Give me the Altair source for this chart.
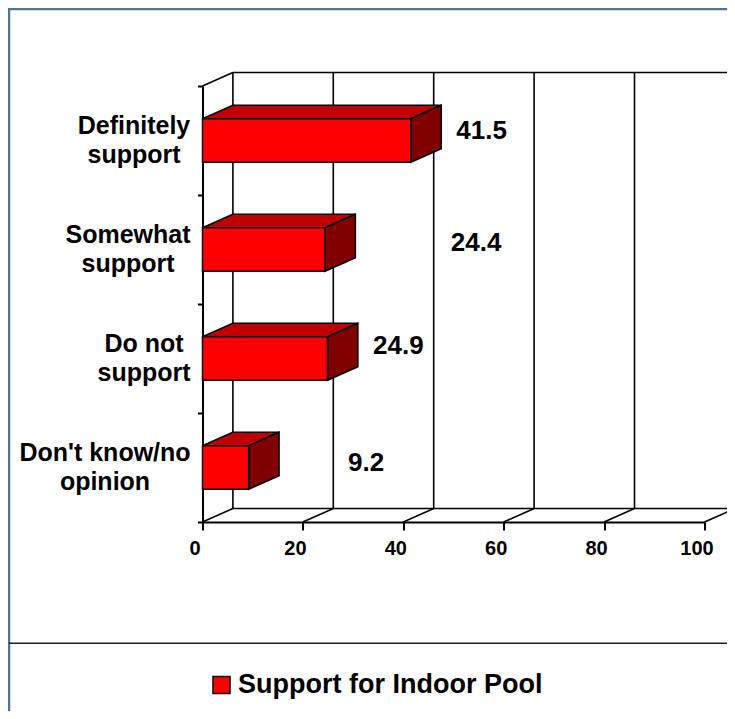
import altair as alt
import pandas as pd

# ---------------- data ----------------
categories = ["Definitely\nsupport", "Somewhat\nsupport", "Do not\nsupport", "Don't know/no\nopinion"]
values = [41.5, 24.4, 24.9, 9.2]
series_name = "Support for Indoor Pool"
x_ticks = [0, 20, 40, 60, 80, 100]

# ---------------- style / layout ----------------
FONT = "Liberation Sans"
W, H = 502, 436          # front plot area (pixels)
XMAX = 100
NCAT = len(categories)
PX_X = W / XMAX
PX_Y = H / NCAT
DX = 30.4 / PX_X         # 3D depth, in data units
DY = 13.5 / PX_Y
HALF = 0.2               # half bar thickness (band units)
FRONT, TOP, SIDE = "#FF0000", "#C00000", "#800000"
CAT_LINE_H = 29.5
# value label placement (x in data units, y shift in band units)
label_pos = [(55.6, 0.087), (54.5, 0.06), (39.0, 0.115), (32.6, 0.041)]
# category label centre, pixels relative to the plot's left edge
cat_cx = [-68.5, -74.5, -58.5, -97.5]

centers = [NCAT - i - 0.5 for i in range(NCAT)]

front = pd.DataFrame({
    "x": [0.0] * NCAT, "x2": values,
    "y": [c - HALF for c in centers], "y2": [c + HALF for c in centers],
    "series": [series_name] * NCAT,
})

top_rows, side_rows = [], []
for i, (v, c) in enumerate(zip(values, centers)):
    top_rows.append({"bar": i, "y": c + HALF, "x": 0.0, "x2": v})
    top_rows.append({"bar": i, "y": c + HALF + DY, "x": DX, "x2": v + DX})
    side_rows.append({"bar": i, "x": v, "y": c - HALF, "y2": c + HALF})
    side_rows.append({"bar": i, "x": v + DX, "y": c - HALF + DY, "y2": c + HALF + DY})
top = pd.DataFrame(top_rows)
side = pd.DataFrame(side_rows)

seg = []
for t in x_ticks:
    seg.append({"x": t + DX, "y": DY, "x2": t + DX, "y2": NCAT + DY})   # back wall grid
    seg.append({"x": t, "y": 0, "x2": t + DX, "y2": DY})                # floor diagonals
seg.append({"x": DX, "y": NCAT + DY, "x2": XMAX + DX, "y2": NCAT + DY})  # back top
seg.append({"x": DX, "y": DY, "x2": XMAX + DX, "y2": DY})                # back floor edge
seg.append({"x": 0, "y": NCAT, "x2": DX, "y2": NCAT + DY})               # left wall top
segs = pd.DataFrame(seg)

labels = pd.DataFrame({
    "x": [p[0] for p in label_pos],
    "y": [c + p[1] for c, p in zip(centers, label_pos)],
    "v": values,
})
cats = pd.DataFrame({
    "x": [cx / PX_X for cx in cat_cx],
    "y": centers,
    "cat": categories,
})

xscale = alt.Scale(domain=[0, XMAX], nice=False, zero=False)
yscale = alt.Scale(domain=[0, NCAT], nice=False, zero=False)
xaxis = alt.Axis(values=x_ticks, title=None, grid=False, tickSize=8, tickWidth=2,
                 tickColor="black", domainColor="black", domainWidth=2,
                 labelFont=FONT, labelFontSize=20, labelFontWeight="bold",
                 labelColor="black", labelPadding=8, labelOffset=-8,
                 labelFlush=False)
yaxis = alt.Axis(values=list(range(NCAT + 1)), title=None, grid=False, labels=False,
                 tickSize=5, tickWidth=2, tickColor="black", domainColor="black",
                 domainWidth=2)


def X(f="x"):
    return alt.X(f"{f}:Q", scale=xscale, axis=xaxis, stack=None)


def Y(f="y"):
    return alt.Y(f"{f}:Q", scale=yscale, axis=yaxis, stack=None)


grid = alt.Chart(segs).mark_rule(color="black", strokeWidth=1.6).encode(
    x=X(), y=Y(), x2="x2:Q", y2="y2:Q")

tops = alt.Chart(top).mark_area(orient="horizontal", color=TOP, stroke="black",
                                strokeWidth=1.5, opacity=1).encode(
    y=Y(), x=X(), x2="x2:Q", detail="bar:N")

sides = alt.Chart(side).mark_area(orient="vertical", color=SIDE, stroke="black",
                                  strokeWidth=1.5, opacity=1).encode(
    x=X(), y=Y(), y2="y2:Q", detail="bar:N")

fronts = alt.Chart(front).mark_rect(stroke="black", strokeWidth=1.5).encode(
    x=X(), x2="x2:Q", y=Y(), y2="y2:Q",
    color=alt.Color("series:N", scale=alt.Scale(range=[FRONT]),
                    legend=alt.Legend(orient="none", legendX=5.5, legendY=585.5,
                                      title=None, padding=0, symbolType="square",
                                      symbolSize=289, symbolStrokeColor="black",
                                      symbolStrokeWidth=1.5, labelFont=FONT,
                                      labelFontSize=27, labelFontWeight="bold",
                                      labelColor="black", labelOffset=3,
                                      labelLimit=600)))

vals = alt.Chart(labels).mark_text(font=FONT, fontSize=26, fontWeight="bold",
                                   color="black", align="center",
                                   baseline="middle").encode(
    x=X(), y=Y(), text=alt.Text("v:Q", format=".1f"))

catlab = alt.Chart(cats).mark_text(font=FONT, fontSize=25, fontWeight="bold",
                                   color="black", align="center", baseline="middle",
                                   lineBreak="\n", lineHeight=CAT_LINE_H,
                                   dy=-CAT_LINE_H / 2).encode(
    x=X(), y=Y(), text="cat:N")

dummy = pd.DataFrame({"d": [0]})
frame_left = alt.Chart(dummy).mark_rule(color="#4F7299", strokeWidth=2.5).encode(
    x=alt.value(-193.5), y=alt.value(-77), y2=alt.value(640))
frame_top = alt.Chart(dummy).mark_rule(color="#4F7299", strokeWidth=2.5).encode(
    x=alt.value(-194.5), x2=alt.value(540), y=alt.value(-77))
separator = alt.Chart(dummy).mark_rule(color="#222222", strokeWidth=1.5).encode(
    x=alt.value(-193.5), x2=alt.value(540), y=alt.value(557.3))

chart = alt.layer(grid, tops, sides, fronts, vals, catlab,
                  frame_left, frame_top, separator).properties(
    width=W, height=H,
    autosize=alt.AutoSizeParams(type="none"),
    padding={"left": 194.5, "top": 78, "right": 22.5, "bottom": 189},
    background="white",
).configure_view(strokeWidth=0)

chart.save("out.html", embed_options={"renderer": "svg", "actions": False})
